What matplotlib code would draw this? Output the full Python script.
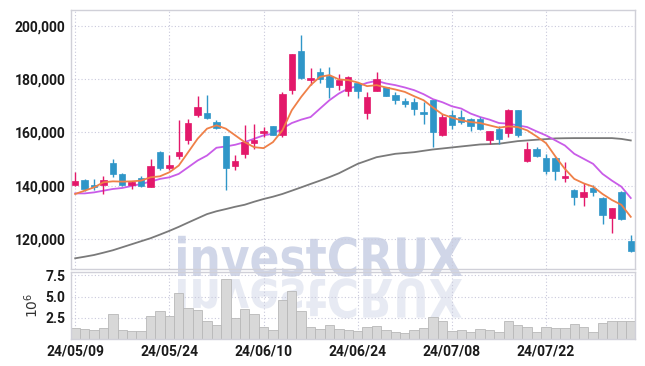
import numpy as np
import matplotlib
matplotlib.use("Agg")
import matplotlib.pyplot as plt
from matplotlib.textpath import TextPath
from matplotlib.patches import PathPatch
from matplotlib.font_manager import FontProperties
from matplotlib.transforms import Affine2D

# daily OHLC (KRW)
opens = [140100, 142200, 140400, 140100, 148400, 144500, 140100, 142900, 139600, 152500,
         146500, 151100, 157200, 166700, 167200, 163800, 158600, 147300, 152000, 156000,
         159900, 162300, 159200, 176100, 190700, 179500, 182500, 181300, 177700, 175600,
         178600, 167300, 175600, 176900, 174000, 171700, 171500, 167700, 172100, 159200,
         166400, 165700, 164900, 164900, 157000, 161400, 159900, 168300, 149400, 153900,
         150300, 150500, 142800, 138400, 135600, 139100, 135400, 127900, 137700, 119200]
highs = [145000, 142400, 142500, 143800, 150100, 144600, 141900, 143700, 150100, 153100,
         151600, 164800, 165200, 173600, 174200, 164500, 158700, 151600, 162800, 163300,
         162000, 162400, 175200, 189500, 196600, 184300, 184000, 184400, 181800, 181000,
         178800, 175000, 182800, 177200, 175200, 173100, 173000, 171400, 172300, 167000,
         168300, 168300, 165400, 165800, 160500, 162400, 168600, 168400, 156300, 154500,
         151700, 150700, 148800, 138600, 140900, 140300, 135600, 131700, 138100, 121500]
lows = [140000, 138100, 138500, 136900, 143100, 139700, 138600, 139600, 139400, 145700,
        145700, 150100, 155700, 165800, 165200, 161200, 138500, 145900, 150300, 153900,
        158200, 159100, 158200, 174300, 180200, 177700, 178400, 173100, 175800, 173600,
        173100, 165200, 175500, 173700, 170800, 169600, 166400, 163000, 154700, 158600,
        161400, 163100, 160400, 160800, 155700, 155700, 158200, 158200, 148800, 150900,
        144200, 142100, 141300, 132800, 132400, 136200, 125600, 122100, 127100, 115200]
closes = [141900, 138900, 139600, 142300, 144300, 140100, 141500, 140000, 147500, 146500,
          147900, 152500, 163500, 169600, 165300, 161600, 146800, 149100, 156300, 157000,
          160400, 159200, 174300, 189400, 180300, 180500, 179900, 177100, 179600, 180900,
          175600, 173300, 180000, 173800, 172100, 170800, 168800, 166900, 160100, 165800,
          162600, 163900, 162400, 161400, 160400, 157600, 168300, 158900, 153900, 151100,
          145400, 145400, 143800, 135600, 137700, 137500, 128900, 131600, 127300, 115500]

# moving averages as drawn on the chart
ma_short = [136870, 138110, 139360, 141250, 141620, 141510, 141620, 141890, 143130, 143510,
            145020, 147550, 152570, 157620, 161400, 162640, 161400, 158870, 156340, 154450,
            154080, 156340, 160760, 168300, 173320, 177740, 180870, 181510, 179890, 179620,
            178750, 177360, 177740, 176870, 176110, 175210, 173580, 172080, 169320, 166790,
            165550, 164530, 163890, 163510, 162640, 161770, 162260, 162000, 160760, 158490,
            155960, 150940, 146300, 142530, 140870, 139620, 136870, 134600, 132830, 128300]
ma_mid = [137090, 137090, 137470, 138110, 138750, 139130, 139890, 140640, 141510, 142530,
          143130, 144420, 146910, 149430, 151320, 154230, 154720, 155360, 156340, 157620,
          158870, 159510, 161400, 163510, 164790, 165770, 168940, 172080, 174600, 176490,
          177360, 178600, 179360, 178380, 177740, 176870, 175850, 174340, 172460, 171320,
          169810, 168940, 167060, 165770, 164790, 163510, 163280, 162640, 162000, 160380,
          158870, 156980, 155090, 151960, 150080, 148190, 144420, 141890, 139620, 135360]
ma_long = [112720, 113320, 113960, 114830, 115740, 116870, 118000, 119130, 120260, 121620,
           123020, 124530, 126150, 127740, 129320, 130380, 131210, 132080, 132830, 133960,
           134980, 135850, 136870, 138110, 139360, 140640, 141890, 143210, 144640, 146420,
           148190, 149430, 150680, 151320, 151960, 152260, 152570, 153090, 153590, 153960,
           154340, 154720, 155090, 155470, 155590, 155740, 156230, 156720, 156980, 157250,
           157470, 157740, 157810, 157850, 157850, 157850, 157850, 157850, 157550, 156980]

# volume in millions of shares
volume = [1.3, 1.2, 1.1, 1.3, 2.9, 1.1, 0.95, 0.95, 2.75, 3.25,
          2.75, 5.4, 3.65, 3.4, 2.1, 1.65, 7.1, 2.5, 3.55, 2.9,
          1.35, 1.05, 4.6, 5.6, 3.3, 1.35, 1.2, 1.65, 1.2, 1.05,
          0.95, 1.35, 1.5, 1.05, 0.8, 0.7, 1.05, 1.3, 2.6, 2.1,
          0.95, 1.05, 0.8, 1.2, 1.05, 0.8, 2.15, 1.65, 1.35, 0.8,
          1.35, 1.3, 1.3, 1.75, 1.35, 0.8, 1.85, 2.15, 2.1, 2.1]

tick_pos = [0, 10, 20, 30, 40, 50]
tick_labels = ["24/05/09", "24/05/24", "24/06/10", "24/06/24", "24/07/08", "24/07/22"]
price_ticks = [120000, 140000, 160000, 180000, 200000]

UP = "#e3186a"
DOWN = "#2f96c8"
GRID = "#c9c9dc"
SPINE = "#d0d0d8"
LABEL_FONT = ["Roboto", "DejaVu Sans"]


def main():
    o = np.array(opens)
    c = np.array(closes)
    h = np.array(highs)
    l = np.array(lows)
    x = np.arange(len(o))
    up = c >= o
    colors = np.where(up, UP, DOWN)

    fig = plt.figure(figsize=(6.45, 3.66), dpi=100)
    fig.patch.set_facecolor("white")
    ax = fig.add_axes([0.110, 0.265, 0.8745, 0.708])
    axv = fig.add_axes([0.110, 0.074, 0.8745, 0.183], sharex=ax)

    for a in (ax, axv):
        a.set_facecolor("none")
        for s in a.spines.values():
            s.set_color(SPINE)
            s.set_linewidth(1.0)
        a.grid(True, color=GRID, linestyle=(0, (1, 2)), linewidth=0.8)
        a.set_axisbelow(True)
        a.tick_params(length=0, labelsize=10, labelcolor="#1a1a1a", pad=4)

    # watermark with reflection, in pixel coordinates
    fp = FontProperties(family="DejaVu Sans", weight="bold")
    tp = TextPath((0, 0), "investCRUX", size=50, prop=fp)
    bb = tp.get_extents()
    sc = 284.0 / bb.width
    scy = sc * 1.2
    tr = Affine2D().translate(-bb.x0, 0).scale(sc, scy).translate(178, 366 - 276)
    fig.add_artist(PathPatch(tp, transform=tr, facecolor="#c8cfe4", edgecolor="none",
                             alpha=0.85, zorder=-1))
    trm = Affine2D().translate(-bb.x0, 0).scale(sc, -scy).translate(178, 366 - 279)
    fig.add_artist(PathPatch(tp, transform=trm, facecolor="#e0e4ef", edgecolor="none",
                             alpha=0.75, zorder=-1))

    # candles
    ax.vlines(x, l, h, colors=colors, linewidth=1.0, zorder=3)
    body = np.maximum(np.abs(c - o), 400)
    ax.bar(x, body, bottom=np.minimum(o, c), width=0.68, color=colors,
           edgecolor=colors, linewidth=0.5, zorder=4)

    ax.plot(x, ma_long, color="#7a7a7a", linewidth=1.3, zorder=2)
    ax.plot(x, ma_mid, color="#c95ce8", linewidth=1.3, zorder=2)
    ax.plot(x, ma_short, color="#ef8048", linewidth=1.3, zorder=5)

    ax.set_ylim(108700, 206000)
    ax.set_yticks(price_ticks)
    ax.set_yticklabels([f"{v:,}" for v in price_ticks], family=LABEL_FONT, fontweight="bold")
    ax.set_xlim(-0.45, 59.45)
    ax.set_xticks(tick_pos)
    plt.setp(ax.get_xticklabels(), visible=False)

    axv.bar(x, volume, width=1.0, color="#d8d8d8", edgecolor="#b8b8b8", linewidth=0.6, zorder=2)
    axv.set_ylim(0, 7.9)
    axv.set_yticks([2.5, 5.0, 7.5])
    axv.set_yticklabels(["2.5", "5.0", "7.5"], family=LABEL_FONT, fontweight="bold")
    axv.set_xticks(tick_pos)
    axv.set_xticklabels(tick_labels, family=LABEL_FONT, fontweight="bold")
    axv.set_ylabel("$10^6$", fontsize=10, color="#333333", labelpad=3)

    fig.savefig("out.png", dpi=100)


if __name__ == "__main__":
    main()
